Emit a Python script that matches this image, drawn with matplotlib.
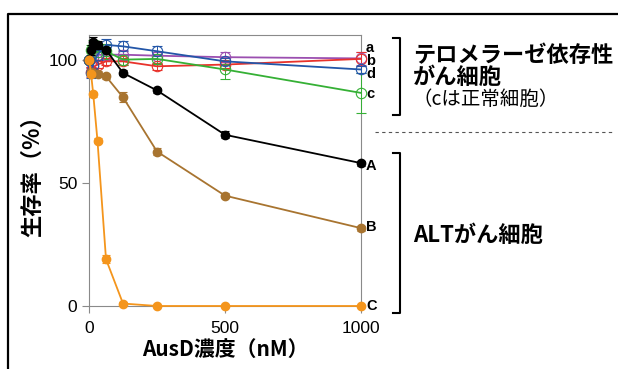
import matplotlib.pyplot as plt
from matplotlib.lines import Line2D

plt.rcParams["font.family"] = ["Liberation Sans", "DejaVu Sans"]
JP = ["Noto Sans CJK JP", "DejaVu Sans"]

# concentrations (nM)
conc = [0, 7.8, 15.6, 31.25, 62.5, 125, 250, 500, 1000]

# survival (%) - telomerase dependent lines (open markers)
surv_a = [100, 99, 101, 102, 102, 102, 101.6, 101, 100.5]
err_a = [0, 2, 2, 2, 2, 2, 1.5, 2, 2.5]
surv_b = [100, 95, 97, 98, 99.3, 99.3, 97.3, 98, 100.3]
err_b = [0, 2, 2, 1.5, 1.5, 1.5, 1.5, 1.5, 3]
surv_c = [100, 104, 105, 103, 103.4, 100, 100.3, 96, 86.5]
err_c = [0, 2, 3, 3, 3, 2, 2, 4, 8]
surv_d = [100, 94.6, 98, 102, 106, 105.4, 103.4, 99.3, 96]
err_d = [0, 2, 2, 2, 2.5, 2, 2, 1.5, 1.5]

# ALT lines (filled markers)
surv_A = [100, 104, 107, 106, 104, 94.6, 87.5, 69.5, 58]
err_A = [0, 2, 2, 1.5, 1, 1, 1, 1.5, 1]
surv_B = [100, 95, 94.6, 94.2, 93.2, 84.7, 62.7, 44.8, 31.6]
err_B = [0, 1, 1, 1, 1, 2, 1.5, 1, 1]
surv_C = [100, 94, 86, 67, 19, 1, 0, 0, 0]
err_C = [0, 1, 1, 1, 1.5, 0.5, 0.3, 0.3, 0.3]

open_series = [
    ("a", surv_a, err_a, "#9b4fb0"),
    ("b", surv_b, err_b, "#e8322b"),
    ("c", surv_c, err_c, "#35b035"),
    ("d", surv_d, err_d, "#2356a8"),
]
filled_series = [
    ("A", surv_A, err_A, "#000000"),
    ("B", surv_B, err_B, "#a87430"),
    ("C", surv_C, err_C, "#f4951c"),
]

fig = plt.figure(figsize=(6.18, 3.69), dpi=100)
ax = fig.add_axes([89 / 618, 63 / 369, 272 / 618, 271 / 369])

for name, y, e, col in open_series:
    ax.errorbar(conc, y, yerr=e, color=col, lw=1.3, marker="o", ms=7.5,
                mfc="none", mec=col, mew=0.8, ecolor=col, elinewidth=0.7,
                capsize=3.5, capthick=0.7, clip_on=False, zorder=3)

for name, y, e, col in filled_series:
    ax.errorbar(conc, y, yerr=e, color=col, lw=1.3, marker="o", ms=6,
                mfc=col, mec=col, ecolor=col, elinewidth=0.8,
                capsize=3, capthick=0.8, clip_on=False, zorder=4)

ax.set_xlim(0, 1000)
ax.set_ylim(0, 110)
ax.set_xticks([0, 500, 1000])
ax.set_yticks([0, 50, 100])
for s in ax.spines.values():
    s.set_color("#8a8a8a")
    s.set_linewidth(0.8)
ax.tick_params(colors="#8a8a8a", labelcolor="black", labelsize=12.5,
               length=5, width=0.8)
ax.tick_params(axis="x", pad=6)
ax.grid(False)

ax.set_xlabel("AusD濃度（nM）", family=JP, fontsize=15, fontweight="bold",
              labelpad=2)
ax.set_ylabel("生存率（%）", family=JP, fontsize=16, fontweight="bold",
              labelpad=3)

# series labels at the right end
label_y = {"a": 104.8, "b": 99.6, "d": 94.0, "c": 86, "A": 57, "B": 32, "C": 0}
for k, v in label_y.items():
    ax.text(1018, v, k, fontsize=10.5, fontweight="bold",
            ha="left", va="center", transform=ax.transData, clip_on=False)

# brackets and group labels (figure pixel coordinates)
def px(x, y):
    return x / 618, 1 - y / 369

def bracket(y0, y1):
    xs = [393, 400, 400, 393]
    ys = [y0, y0, y1, y1]
    pts = [px(x, y) for x, y in zip(xs, ys)]
    fig.add_artist(Line2D([p[0] for p in pts], [p[1] for p in pts],
                          color="black", lw=1.5))

bracket(38, 115)
bracket(153, 313)

fig.text(*px(413, 55), "テロメラーゼ依存性", family=JP, fontsize=16,
         fontweight="bold", ha="left", va="center")
fig.text(*px(413, 77), "がん細胞", family=JP, fontsize=16,
         fontweight="bold", ha="left", va="center")
fig.text(*px(413, 99), "（cは正常細胞）", family=JP, fontsize=14,
         ha="left", va="center")
fig.text(*px(413, 235), "ALTがん細胞", family=JP, fontsize=16,
         fontweight="bold", ha="left", va="center")

dash_pts = [px(375, 132), px(612, 132)]
fig.add_artist(Line2D([dash_pts[0][0], dash_pts[1][0]],
                      [dash_pts[0][1], dash_pts[1][1]],
                      color="#555555", lw=0.8, ls=(0, (3, 3))))

# outer frame (top and left)
frame = [px(8, 369), px(8, 13.5), px(618, 13.5)]
fig.add_artist(Line2D([p[0] for p in frame], [p[1] for p in frame],
                      color="black", lw=1.6))

fig.savefig("out.png", dpi=100)
